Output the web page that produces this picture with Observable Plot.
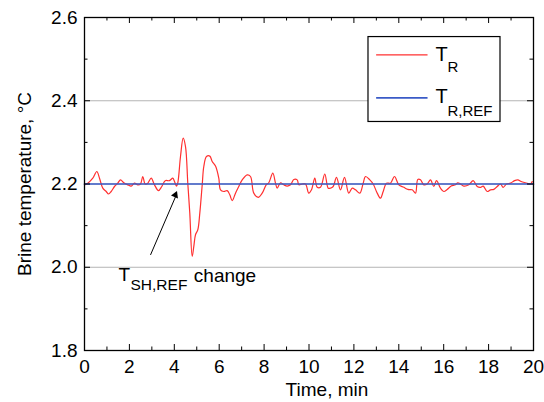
<!DOCTYPE html>
<html>
<head>
<meta charset="utf-8">
<script src="https://cdn.jsdelivr.net/npm/d3@7"></script>
<script src="https://cdn.jsdelivr.net/npm/@observablehq/plot@0.6"></script>
<style>
html,body{margin:0;padding:0;background:#fff;}
</style>
</head>
<body>
<div id="chart"></div>
<script>
// Measured brine temperature T_R (time in min, temperature in °C)
const timeMin = [0.00,0.147,0.370,0.548,0.668,0.815,0.967,1.069,1.189,1.336,1.483,1.604,1.751,1.929,2.080,2.227,2.374,2.494,2.597,2.704,2.820,2.971,3.118,3.296,3.443,3.595,3.786,3.933,4.009,4.098,4.156,4.276,4.396,4.499,4.601,4.690,4.797,4.869,4.944,5.047,5.136,5.243,5.314,5.434,5.581,5.688,5.835,5.982,6.058,6.206,6.356,6.472,6.579,6.726,6.873,7.025,7.247,7.394,7.541,7.737,7.915,8.093,8.209,8.388,8.508,8.584,8.731,8.878,9.029,9.176,9.323,9.474,9.546,9.697,9.844,9.991,10.111,10.258,10.365,10.512,10.704,10.855,10.958,11.078,11.225,11.403,11.581,11.773,11.924,12.071,12.263,12.414,12.517,12.709,12.860,13.038,13.185,13.305,13.452,13.630,13.808,14.000,14.223,14.401,14.597,14.744,14.847,14.967,15.114,15.265,15.412,15.559,15.679,15.857,16.004,16.156,16.334,16.526,16.628,16.748,16.895,17.118,17.314,17.492,17.639,17.759,17.938,18.085,18.232,18.383,18.530,18.650,18.797,18.976,19.154,19.301,19.452,19.644,19.866,19.942];
const tempR = [2.198,2.202,2.214,2.230,2.214,2.190,2.182,2.176,2.182,2.194,2.202,2.210,2.203,2.198,2.195,2.202,2.198,2.200,2.218,2.200,2.202,2.214,2.198,2.184,2.194,2.208,2.208,2.214,2.206,2.195,2.203,2.266,2.310,2.290,2.202,2.130,2.026,2.050,2.078,2.090,2.130,2.198,2.242,2.266,2.267,2.254,2.243,2.214,2.186,2.182,2.184,2.174,2.160,2.178,2.194,2.210,2.222,2.218,2.178,2.168,2.178,2.198,2.203,2.226,2.202,2.190,2.203,2.198,2.195,2.198,2.211,2.210,2.198,2.200,2.200,2.178,2.186,2.214,2.192,2.192,2.224,2.190,2.190,2.194,2.216,2.186,2.216,2.178,2.190,2.186,2.178,2.202,2.218,2.210,2.200,2.178,2.166,2.182,2.202,2.202,2.218,2.198,2.192,2.187,2.186,2.178,2.211,2.210,2.198,2.200,2.210,2.194,2.208,2.190,2.182,2.187,2.195,2.198,2.203,2.200,2.195,2.198,2.208,2.194,2.192,2.195,2.182,2.186,2.187,2.194,2.200,2.192,2.200,2.202,2.208,2.210,2.206,2.203,2.200,2.206];
// Reference temperature T_R,REF
const refTime = [0, 20];
const refTemp = [2.2, 2.2];
// Axis ticks
const xTicks = [0,2,4,6,8,10,12,14,16,18,20];
const xMinor = [1,3,5,7,9,11,13,15,17,19];
const yTicks = [1.8,2.0,2.2,2.4,2.6];
const yMinor = [1.9,2.1,2.3,2.5];
const gridY = [2.0,2.2,2.4];

const measured = timeMin.map((t,i)=>({t, v: tempR[i]}));
const reference = refTime.map((t,i)=>({t, v: refTemp[i]}));

const W = 544, H = 402, mL = 84, mR = 11, mT = 17, mB = 52;
const fw = W - mL - mR, fh = H - mT - mB;
const red = "#ff3030", blue = "#3a5bc7";

const chart = Plot.plot({
  width: W, height: H,
  marginLeft: mL, marginRight: mR, marginTop: mT, marginBottom: mB,
  x: {domain: [0, 20]},
  y: {domain: [1.8, 2.6]},
  style: {fontFamily: "'Liberation Sans', Arial, sans-serif", fontSize: "19px", background: "#fff", color: "#000"},
  marks: [
    Plot.ruleY(gridY, {stroke: "#b4b4b4", strokeWidth: 1}),
    Plot.line(measured, {x: "t", y: "v", stroke: red, strokeWidth: 1.2, curve: "catmull-rom"}),
    Plot.line(reference, {x: "t", y: "v", stroke: blue, strokeWidth: 1.7}),
    // legend box
    Plot.rect([0], {x1: 12.65, x2: 18.53, y1: 2.349, y2: 2.553, fill: "#fff", stroke: "#000", strokeWidth: 1.2}),
    Plot.link([0], {x1: 12.99, x2: 15.28, y1: 2.510, y2: 2.510, stroke: red, strokeWidth: 1.2}),
    Plot.link([0], {x1: 12.99, x2: 15.28, y1: 2.407, y2: 2.407, stroke: blue, strokeWidth: 1.7}),
    Plot.text(["T"], {x: 15.63, y: 2.5108, text: d => d, textAnchor: "start", fontSize: 20}),
    Plot.text(["R"], {x: 16.17, y: 2.4796, text: d => d, textAnchor: "start", fontSize: 15}),
    Plot.text(["T"], {x: 15.63, y: 2.4095, text: d => d, textAnchor: "start", fontSize: 20}),
    Plot.text(["R,REF"], {x: 16.17, y: 2.3752, text: d => d, textAnchor: "start", fontSize: 15}),
    // annotation
    Plot.text(["T"], {x: 1.514, y: 1.9816, text: d => d, textAnchor: "start", fontSize: 19}),
    Plot.text(["SH,REF"], {x: 2.05, y: 1.9576, text: d => d, textAnchor: "start", fontSize: 15.5}),
    Plot.text(["change"], {x: 4.87, y: 1.980, text: d => d, textAnchor: "start", fontSize: 19}),
    Plot.link([0], {x1: 2.94, y1: 2.0296, x2: 4.06, y2: 2.170, stroke: "#000", strokeWidth: 1}),
    Plot.dot([0], {x: 4.045, y: 2.1735, symbol: "triangle2", r: 3.6, fill: "#000", stroke: null, rotate: 22.5}),
    // inward ticks (bottom, top, left, right)
    Plot.tickX(xTicks, {x: d => d, stroke: "#000", insetTop: fh - 6}),
    Plot.tickX(xMinor, {x: d => d, stroke: "#000", insetTop: fh - 3.5}),
    Plot.tickX(xTicks, {x: d => d, stroke: "#000", insetBottom: fh - 6}),
    Plot.tickX(xMinor, {x: d => d, stroke: "#000", insetBottom: fh - 3.5}),
    Plot.tickY(yTicks, {y: d => d, stroke: "#000", insetRight: fw - 6}),
    Plot.tickY(yMinor, {y: d => d, stroke: "#000", insetRight: fw - 3.5}),
    Plot.tickY(yTicks, {y: d => d, stroke: "#000", insetLeft: fw - 6}),
    Plot.tickY(yMinor, {y: d => d, stroke: "#000", insetLeft: fw - 3.5}),
    Plot.frame({stroke: "#000", strokeWidth: 1.3}),
    Plot.axisX(xTicks, {tickSize: 0, tickPadding: 9, tickFormat: d => String(d), label: null}),
    Plot.axisY(yTicks, {tickSize: 0, tickPadding: 7, tickFormat: d3.format(".1f"), label: null}),
    Plot.text(["Time, min"], {x: 10.8, y: 1.8, text: d => d, dy: 39, fontSize: 19}),
    Plot.text(["Brine temperature, °C"], {frameAnchor: "left", text: d => d, rotate: -90, dx: -60, textAnchor: "middle", fontSize: 19})
  ]
});
document.getElementById("chart").appendChild(chart);
</script>
</body>
</html>
